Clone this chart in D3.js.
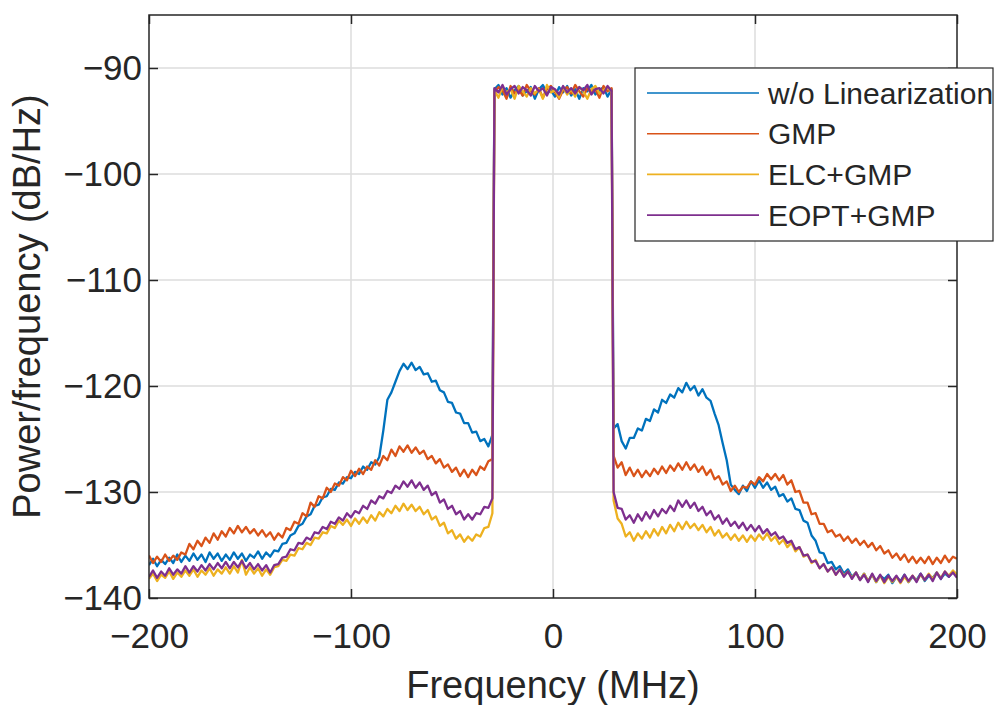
<!DOCTYPE html>
<html>
<head>
<meta charset="utf-8">
<script src="https://cdn.jsdelivr.net/npm/d3@7"></script>
<style>
  body { margin: 0; background: #fff; }
  text { font-family: "Liberation Sans", Arial, Helvetica, sans-serif; fill: #262626; }
</style>
</head>
<body>
<svg id="chart" width="994" height="705"></svg>
<script>
// frequency grid (MHz): left sideband, channel, right sideband
const freqs = [].concat(d3.range(-200, -29, 2), d3.range(-29, 30, 2), d3.range(30, 201, 2));

const xTicks = [-200, -100, 0, 100, 200];
const yTicks = [-140, -130, -120, -110, -100, -90];
const names = ["w/o Linearization", "GMP", "ELC+GMP", "EOPT+GMP"];
const colors = ["#0072BD", "#D95319", "#EDB120", "#7E2F8E"];

// PSD values (dB/Hz)
const woLin = [
  -136.9,-136.3,-137.0,-136.4,-136.8,-136.2,-136.7,-135.9,-136.6,-136.0,
  -136.5,-135.8,-136.4,-135.9,-136.6,-135.7,-136.3,-135.8,-136.5,-135.9,
  -136.4,-135.7,-136.3,-135.8,-136.5,-135.9,-136.2,-135.6,-136.3,-135.7,
  -136.1,-135.5,-135.6,-134.9,-134.8,-134.1,-133.9,-133.2,-133.0,-132.3,
  -132.1,-131.3,-131.2,-130.5,-130.4,-129.7,-129.8,-129.1,-129.2,-128.6,
  -128.7,-128.1,-128.3,-127.6,-127.9,-127.2,-127.4,-126.7,-124.2,-121.3,
  -120.6,-119.6,-118.6,-117.9,-118.4,-117.8,-118.5,-118.2,-118.9,-118.8,
  -119.6,-119.5,-120.4,-120.6,-121.5,-121.6,-122.5,-122.6,-123.5,-123.5,
  -124.4,-124.3,-125.2,-125.0,-125.7,-124.6,
  -92.0,-91.6,-92.5,-91.9,-92.8,-92.1,-91.7,-92.6,-92.2,-91.8,
  -92.9,-92.0,-91.6,-92.4,-92.1,-92.7,-91.8,-92.3,-91.7,-92.6,
  -92.0,-92.9,-91.9,-92.2,-91.6,-92.5,-92.1,-91.8,-92.7,-92.0,
  -124.0,-123.6,-125.2,-125.9,-124.9,-124.9,-124.0,-124.2,-123.1,-123.3,
  -122.2,-122.5,-121.3,-121.6,-120.8,-121.1,-120.2,-120.6,-119.7,-120.4,
  -120.0,-120.9,-120.3,-121.1,-121.4,-122.6,-123.7,-125.4,-127.0,-129.3,
  -129.8,-130.2,-129.4,-129.9,-129.0,-129.6,-128.9,-129.6,-129.1,-129.8,
  -129.5,-130.4,-130.2,-130.9,-130.6,-131.6,-131.7,-132.7,-132.9,-134.1,
  -134.6,-135.7,-135.8,-136.7,-136.6,-137.3,-137.0,-137.7,-137.3,-138.0,
  -137.6,-138.3,-137.7,-138.4,-137.8,-138.5,-137.9,-138.2,-137.8,-138.6,
  -138.0,-138.4,-137.8,-138.5,-138.0,-138.3,-137.7,-138.4,-137.9,-138.1,
  -137.6,-138.2,-137.7,-138.0,-137.5,-137.8
];

const gmp = [
  -136.0,-136.7,-136.1,-136.6,-135.9,-136.5,-136.0,-136.4,-135.7,-135.9,
  -134.9,-135.4,-134.6,-135.1,-134.3,-134.8,-133.9,-134.5,-133.7,-134.2,
  -133.4,-133.9,-133.2,-133.8,-133.3,-133.9,-133.5,-134.1,-133.6,-134.2,
  -133.8,-134.5,-133.9,-134.3,-133.4,-133.6,-132.8,-133.0,-132.0,-132.3,
  -131.0,-131.4,-130.4,-130.6,-129.6,-130.0,-129.2,-129.4,-128.6,-128.9,
  -128.0,-128.5,-127.8,-128.3,-127.6,-127.9,-127.0,-127.5,-126.6,-127.0,
  -126.0,-126.6,-125.7,-126.2,-125.6,-126.3,-125.8,-126.4,-126.1,-126.9,
  -126.6,-127.3,-126.9,-127.7,-127.4,-128.1,-127.7,-128.5,-127.9,-128.6,
  -127.9,-128.4,-127.6,-127.9,-127.1,-126.9,
  -92.3,-91.8,-92.1,-92.9,-91.7,-92.4,-92.0,-92.6,-91.6,-92.2,
  -92.5,-91.9,-92.8,-92.0,-91.7,-92.3,-92.9,-92.1,-91.8,-92.4,
  -91.6,-92.2,-92.7,-91.9,-92.3,-92.0,-92.8,-91.7,-92.2,-91.9,
  -126.6,-127.7,-127.2,-128.4,-127.7,-128.5,-127.9,-128.6,-128.0,-128.5,
  -127.8,-128.3,-127.6,-128.2,-127.5,-128.0,-127.3,-127.9,-127.2,-127.9,
  -127.4,-128.1,-127.6,-128.4,-127.9,-128.8,-128.5,-129.3,-129.0,-129.9,
  -129.4,-130.0,-129.5,-129.6,-129.0,-129.3,-128.6,-129.0,-128.3,-128.8,
  -128.3,-128.9,-128.4,-129.3,-128.9,-130.0,-129.9,-131.0,-131.0,-132.1,
  -132.0,-133.0,-133.0,-133.8,-133.6,-134.2,-134.0,-134.6,-134.2,-134.8,
  -134.4,-135.0,-134.6,-135.2,-134.8,-135.5,-135.1,-135.8,-135.5,-136.2,
  -135.8,-136.4,-135.9,-136.6,-136.1,-136.7,-136.2,-136.7,-136.1,-136.8,
  -136.2,-136.7,-136.0,-136.6,-136.1,-136.3
];

const elcGmp = [
  -138.2,-137.7,-138.4,-137.8,-138.1,-137.5,-138.2,-137.6,-138.0,-137.4,
  -137.9,-137.3,-138.0,-137.4,-137.8,-137.2,-137.9,-137.3,-137.7,-137.1,
  -137.7,-137.0,-137.6,-136.4,-137.8,-137.1,-137.7,-137.2,-137.9,-137.3,
  -137.8,-137.1,-137.0,-136.4,-136.5,-135.9,-136.0,-135.3,-135.4,-134.8,
  -135.0,-134.3,-134.4,-133.8,-133.9,-133.2,-133.4,-132.7,-133.1,-132.6,
  -133.2,-132.5,-133.0,-132.4,-132.9,-132.2,-132.7,-131.9,-132.3,-131.6,
  -132.0,-131.3,-131.8,-131.1,-131.7,-131.2,-131.8,-131.4,-132.1,-131.7,
  -132.6,-132.3,-133.2,-132.9,-133.9,-133.6,-134.4,-134.0,-134.7,-134.2,
  -134.6,-134.0,-134.2,-133.4,-133.3,-132.0,
  -92.1,-92.8,-91.8,-92.3,-92.0,-92.9,-91.7,-92.2,-92.7,-91.9,
  -92.4,-92.0,-92.9,-91.6,-92.3,-92.1,-92.8,-91.8,-92.5,-92.0,
  -92.7,-91.8,-92.2,-92.9,-92.0,-91.7,-92.4,-92.1,-91.8,-92.3,
  -130.8,-132.5,-133.0,-134.2,-133.8,-134.6,-133.9,-134.4,-133.7,-134.3,
  -133.5,-134.1,-133.3,-133.9,-133.1,-133.7,-132.9,-133.5,-132.8,-133.4,
  -133.0,-133.6,-133.1,-133.8,-133.3,-134.1,-133.6,-134.3,-133.9,-134.5,
  -134.0,-134.6,-134.1,-134.7,-134.1,-134.6,-134.0,-134.5,-133.9,-134.6,
  -134.2,-134.9,-134.5,-135.2,-134.8,-135.6,-135.2,-136.1,-135.9,-136.7,
  -136.4,-137.2,-136.8,-137.5,-137.1,-137.8,-137.3,-137.9,-137.5,-138.1,
  -137.6,-138.3,-137.7,-138.4,-137.8,-138.5,-137.9,-138.6,-138.0,-138.5,
  -138.0,-138.6,-138.0,-138.5,-137.9,-138.4,-137.8,-138.3,-137.7,-138.2,
  -137.6,-138.1,-137.5,-137.9,-137.4,-137.8
];

const eoptGmp = [
  -138.0,-137.4,-138.1,-137.5,-137.9,-137.2,-137.8,-137.3,-137.7,-137.0,
  -137.6,-137.0,-137.5,-136.9,-137.4,-136.8,-137.3,-136.7,-137.2,-136.6,
  -137.2,-136.6,-137.1,-136.5,-137.2,-136.7,-137.3,-136.8,-137.4,-136.9,
  -137.6,-136.9,-136.8,-136.2,-136.1,-135.4,-135.5,-134.8,-134.9,-134.3,
  -134.5,-133.8,-133.9,-133.3,-133.5,-132.8,-133.0,-132.4,-132.7,-132.0,
  -132.4,-131.8,-132.0,-131.3,-131.6,-130.8,-131.1,-130.4,-130.6,-129.9,
  -130.1,-129.4,-129.7,-129.0,-129.5,-128.9,-129.6,-129.1,-129.8,-129.4,
  -130.3,-130.0,-131.0,-130.7,-131.6,-131.3,-132.1,-131.8,-132.6,-132.1,
  -132.6,-132.0,-132.1,-131.4,-131.5,-130.6,
  -91.9,-92.3,-91.6,-92.5,-92.0,-91.7,-92.4,-91.8,-92.1,-92.6,
  -91.7,-92.2,-91.9,-92.6,-91.8,-92.0,-92.5,-91.7,-92.3,-91.9,
  -92.4,-91.8,-92.1,-91.6,-92.5,-92.0,-91.9,-92.4,-91.7,-92.2,
  -130.0,-131.5,-131.6,-132.6,-132.2,-132.9,-132.1,-132.7,-131.9,-132.5,
  -131.7,-132.3,-131.6,-132.0,-131.3,-131.8,-130.8,-131.4,-130.8,-131.5,
  -131.0,-131.8,-131.4,-132.2,-131.8,-132.6,-132.2,-133.0,-132.5,-133.2,
  -132.8,-133.4,-132.9,-133.6,-133.1,-133.7,-133.2,-133.9,-133.5,-134.1,
  -133.8,-134.4,-134.2,-134.8,-134.6,-135.4,-135.2,-136.0,-135.9,-136.6,
  -136.5,-137.2,-136.8,-137.5,-137.1,-137.8,-137.3,-138.0,-137.5,-138.2,
  -137.6,-138.3,-137.8,-138.5,-137.7,-138.4,-137.8,-138.5,-137.9,-138.4,
  -137.9,-138.5,-137.8,-138.4,-137.9,-138.5,-137.7,-138.3,-137.8,-138.4,
  -137.6,-138.2,-137.5,-138.0,-137.6,-138.1
];

const series = [woLin, gmp, elcGmp, eoptGmp];

const svg = d3.select("#chart");
const mLeft = 149, mRight = 957, mTop = 15, mBottom = 598;

const x = d3.scaleLinear().domain([-200, 200]).range([mLeft, mRight]);
const y = d3.scaleLinear().domain([-140, -85]).range([mBottom, mTop]);

svg.append("rect").attr("width", 994).attr("height", 705).attr("fill", "#fff");

// grid
const grid = svg.append("g").attr("stroke", "#dcdcdc").attr("stroke-width", 1.5);
grid.selectAll(".gx").data(xTicks.slice(1, -1)).enter().append("line")
  .attr("x1", d => x(d)).attr("x2", d => x(d)).attr("y1", mTop).attr("y2", mBottom);
grid.selectAll(".gy").data(yTicks.slice(1)).enter().append("line")
  .attr("y1", d => y(d)).attr("y2", d => y(d)).attr("x1", mLeft).attr("x2", mRight);

// traces
svg.append("clipPath").attr("id", "plotclip").append("rect")
  .attr("x", mLeft).attr("y", mTop).attr("width", mRight - mLeft).attr("height", mBottom - mTop);

const line = d3.line().x((d, i) => x(freqs[i])).y(d => y(d));
svg.append("g").attr("clip-path", "url(#plotclip)")
  .selectAll("path").data(series).enter().append("path")
  .attr("d", d => line(d))
  .attr("fill", "none")
  .attr("stroke", (d, i) => colors[i])
  .attr("stroke-width", 2.3)
  .attr("stroke-linejoin", "round");

// axes (ticks inward, on all four sides)
function styleAxis(g, size) {
  g.select(".domain").remove();
  g.selectAll(".tick line").attr("stroke", "#262626").attr("stroke-width", 1.5);
  g.selectAll("text").attr("font-size", size)
    .attr("font-family", "'Liberation Sans', Arial, Helvetica, sans-serif")
    .attr("fill", "#262626");
}

svg.append("g").attr("transform", `translate(0,${mBottom})`)
  .call(d3.axisBottom(x).tickValues(xTicks).tickSize(-9).tickPadding(25))
  .call(g => styleAxis(g, 35));
svg.append("g").attr("transform", `translate(0,${mTop})`)
  .call(d3.axisTop(x).tickValues(xTicks).tickSize(-9).tickFormat(""))
  .call(g => styleAxis(g, 35));
svg.append("g").attr("transform", `translate(${mLeft},0)`)
  .call(d3.axisLeft(y).tickValues(yTicks).tickSize(-9).tickPadding(7))
  .call(g => styleAxis(g, 35));
svg.append("g").attr("transform", `translate(${mRight},0)`)
  .call(d3.axisRight(y).tickValues(yTicks).tickSize(-9).tickFormat(""))
  .call(g => styleAxis(g, 35));

svg.append("rect")
  .attr("x", mLeft).attr("y", mTop).attr("width", mRight - mLeft).attr("height", mBottom - mTop)
  .attr("fill", "none").attr("stroke", "#262626").attr("stroke-width", 1.5);

// axis labels
svg.append("text")
  .attr("x", (mLeft + mRight) / 2).attr("y", 698)
  .attr("text-anchor", "middle").attr("font-size", 38)
  .text("Frequency (MHz)");
svg.append("text")
  .attr("transform", `translate(40,${(mTop + mBottom) / 2}) rotate(-90)`)
  .attr("text-anchor", "middle").attr("font-size", 38)
  .text("Power/frequency (dB/Hz)");

// legend
const legend = svg.append("g");
legend.append("rect")
  .attr("x", 635).attr("y", 68).attr("width", 358).attr("height", 173)
  .attr("fill", "#fff").attr("stroke", "#262626").attr("stroke-width", 1.2);
const item = legend.selectAll(".item").data(names).enter().append("g")
  .attr("transform", (d, i) => `translate(0,${93 + i * 40.7})`);
item.append("line")
  .attr("x1", 647).attr("x2", 759)
  .attr("stroke", (d, i) => colors[i]).attr("stroke-width", 1.6);
item.append("text")
  .attr("x", 768).attr("dy", "0.35em").attr("font-size", 30)
  .text(d => d);
</script>
</body>
</html>
